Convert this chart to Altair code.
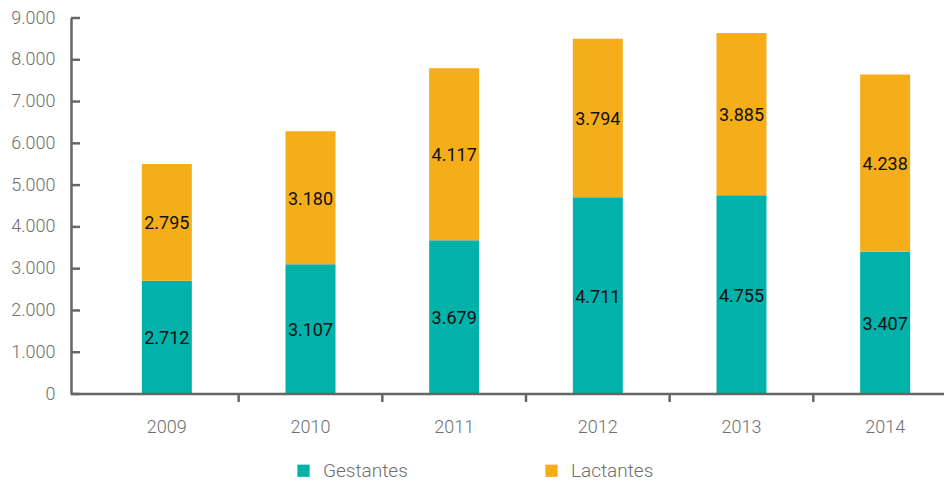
import altair as alt
import pandas as pd

years = ["2009", "2010", "2011", "2012", "2013", "2014"]
gestantes = [2712, 3107, 3679, 4711, 4755, 3407]
lactantes = [2795, 3180, 4117, 3794, 3885, 4238]
series = ["Gestantes", "Lactantes"]
colors = ["#00B2A9", "#F5AE1A"]
yticks = [0, 1000, 2000, 3000, 4000, 5000, 6000, 7000, 8000, 9000]

rows = []
for i, y in enumerate(years):
    rows.append({"year": y, "serie": "Gestantes", "value": gestantes[i], "ord": 0})
    rows.append({"year": y, "serie": "Lactantes", "value": lactantes[i], "ord": 1})
df = pd.DataFrame(rows)

W = 873
H = 376
AX = "#666666"
LBL = "#6f6f6f"
FONT = "Roboto"

xscale = alt.Scale(domain=years, range=[24, 886], paddingInner=0, paddingOuter=0)
yscale = alt.Scale(domain=[0, 9000], nice=False)

xaxis = alt.Axis(
    title=None, domain=False, ticks=False,
    labelFont=FONT, labelFontWeight=300, labelFontSize=18, labelColor=LBL, labelPadding=24,
    labelAngle=0,
)
yaxis = alt.Axis(
    title=None, values=yticks, domain=True, domainColor=AX, domainWidth=2.5, ticks=False,
    labelFont=FONT, labelFontWeight=300, labelFontSize=18, labelColor=LBL, labelPadding=16,
    labelExpr="replace(format(datum.value, ','), ',', '.')", grid=False,
)

base = alt.Chart(df)

bars = base.mark_bar(size=50).encode(
    x=alt.X("year:N", scale=xscale, axis=xaxis),
    y=alt.Y("value:Q", scale=yscale, axis=yaxis, stack="zero"),
    color=alt.Color(
        "serie:N",
        scale=alt.Scale(domain=series, range=colors),
        legend=alt.Legend(
            title=None, orient="none", legendX=223, legendY=443, direction="horizontal",
            symbolType="square", symbolSize=150, symbolStrokeWidth=0,
            labelFont=FONT, labelFontWeight=300, labelFontSize=19, labelColor=LBL,
            labelOffset=10, columnPadding=134,
        ),
    ),
    order=alt.Order("ord:Q", sort="ascending"),
)

texts = base.transform_stack(
    stack="value", groupby=["year"], as_=["v0", "v1"],
    sort=[alt.SortField("ord", order="ascending")],
).transform_calculate(
    mid="(datum.v0 + datum.v1) / 2",
    lbl="replace(format(datum.value, ','), ',', '.')",
).mark_text(font=FONT, fontSize=18, color="#111111", baseline="middle", dy=2).encode(
    x=alt.X("year:N", scale=xscale),
    y=alt.Y("mid:Q", scale=yscale),
    text="lbl:N",
)

ytick_marks = alt.Chart(pd.DataFrame({"t": yticks})).mark_rule(
    color=AX, strokeWidth=2.5
).encode(y=alt.Y("t:Q", scale=yscale), x=alt.value(0), x2=alt.value(9))

xtick_marks = alt.Chart(pd.DataFrame({"year": years[1:]})).mark_rule(
    color=AX, strokeWidth=2.5
).encode(
    x=alt.X("year:N", scale=xscale, bandPosition=0),
    y=alt.value(H), y2=alt.value(H + 8),
)

baseline = alt.Chart(pd.DataFrame({"b": [0]})).mark_rule(
    color=AX, strokeWidth=2.5
).encode(y=alt.Y("b:Q", scale=yscale), x=alt.value(0), x2=alt.value(W))

chart = alt.layer(bars, texts, ytick_marks, xtick_marks, baseline).properties(
    width=W, height=H,
    autosize=alt.AutoSizeParams(type="none"),
    padding={"left": 63, "top": 10, "right": 0, "bottom": 88},
).configure(background="white").configure_view(stroke=None)

chart.save("out.html", embed_options={"renderer": "svg", "actions": False})
